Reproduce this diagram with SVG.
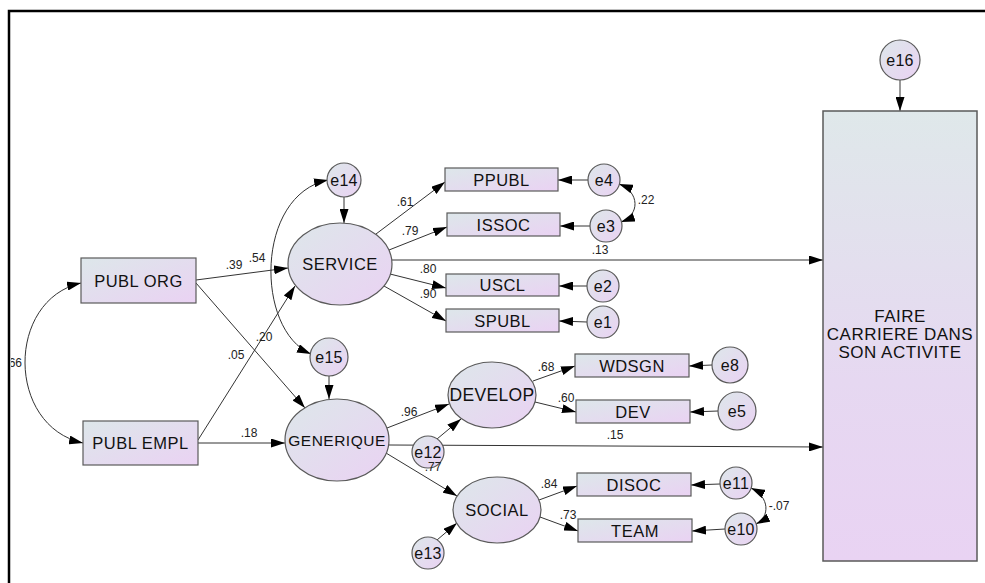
<svg xmlns="http://www.w3.org/2000/svg" width="985" height="583" viewBox="0 0 985 583">
<style>
.n{stroke:#5a5a5a;stroke-width:1.2;fill:url(#g)}
.t{font-family:"Liberation Sans",Arial,sans-serif;font-size:16.5px;letter-spacing:0.5px;fill:#111;text-anchor:middle}
.te{font-family:"Liberation Sans",Arial,sans-serif;font-size:16px;letter-spacing:0.3px;fill:#111;text-anchor:middle}
.l{font-family:"Liberation Sans",Arial,sans-serif;font-size:12px;fill:#222;text-anchor:middle}
.c{fill:none;stroke:#333;stroke-width:1;marker-end:url(#a)}
.d{fill:none;stroke:#333;stroke-width:1;marker-end:url(#a);marker-start:url(#a)}
</style>
<defs>
<linearGradient id="g" x1="0" y1="0" x2="1" y2="1">
<stop offset="0" stop-color="#dde7ea"/>
<stop offset="1" stop-color="#ead2f3"/>
</linearGradient>
<linearGradient id="gv" x1="0" y1="0" x2="0" y2="1">
<stop offset="0" stop-color="#dfe8ea"/>
<stop offset="0.6" stop-color="#e6d8f1"/>
<stop offset="1" stop-color="#e9d3f3"/>
</linearGradient>
<marker id="a" viewBox="0 0 14 9" refX="14" refY="4.5" markerWidth="14" markerHeight="9" orient="auto-start-reverse" markerUnits="userSpaceOnUse">
<path d="M0,0 L14,4.5 L0,9 z" fill="#000"/>
</marker>
<clipPath id="clip"><rect x="11" y="0" width="974" height="583"/></clipPath>
</defs>
<rect width="985" height="583" fill="#fff"/>
<path d="M9,583 V11 H985" fill="none" stroke="#000" stroke-width="2.5"/>

<g id="connectors">
<path class="d" d="M81,283 C 6,300 6,426 83,443"/>
<path class="d" d="M328,180 C 255,195 255,330 311,354"/>
<path class="c" d="M196,280 L288,268"/>
<path class="c" d="M198,440 L295,286"/>
<path class="c" d="M196,283 L305,408"/>
<path class="c" d="M198,443 L285,443"/>
<path class="c" d="M344,197 L344,223"/>
<path class="c" d="M329,376 L329,399"/>
<path class="c" d="M376,234 L445,182"/>
<path class="c" d="M389,250 L447,227"/>
<path class="c" d="M392,260 L823,260"/>
<path class="c" d="M390,274 L446,288"/>
<path class="c" d="M384,286 L446,321"/>
<path class="c" d="M588,180 L558,180"/>
<path class="c" d="M590,226 L560,226"/>
<path class="c" d="M587,286 L559,286"/>
<path class="c" d="M587,322 L559,321"/>
<path class="d" d="M619,184 C 640,192 640,215 621,222"/>
<path class="c" d="M387,428 L449,404"/>
<path class="c" d="M389,445 L823,447"/>
<path class="c" d="M386,453 L457,496"/>
<path class="c" d="M437,439 L461,419"/>
<path class="c" d="M437,540 L457,523"/>
<path class="c" d="M533,381 L575,366"/>
<path class="c" d="M535,402 L576,412"/>
<path class="c" d="M539,500 L577,486"/>
<path class="c" d="M540,517 L578,531"/>
<path class="c" d="M712,365 L689,366"/>
<path class="c" d="M718,411 L690,412"/>
<path class="c" d="M720,484 L691,485"/>
<path class="c" d="M725,529 L692,531"/>
<path class="d" d="M751,488 C 770,497 770,517 756,524"/>
<path class="c" d="M900,80 L900,111"/>
</g>

<g id="publorg"><rect class="n" x="81" y="258" width="115" height="45"/><text class="t" x="138.5" y="286.5">PUBL ORG</text></g>
<g id="publempl"><rect class="n" x="83" y="421" width="115" height="44"/><text class="t" x="140.5" y="449">PUBL EMPL</text></g>

<g id="service"><ellipse class="n" cx="340" cy="264" rx="52" ry="41"/><text class="t" x="340" y="270">SERVICE</text></g>
<g id="generique"><ellipse class="n" cx="337" cy="440" rx="52" ry="41"/><text class="t" x="337" y="445.5" style="font-size:15.5px">GENERIQUE</text></g>
<g id="develop"><ellipse class="n" cx="492" cy="395" rx="44" ry="33"/><text class="t" x="492" y="401" style="font-size:17.5px;letter-spacing:0.3px">DEVELOP</text></g>
<g id="social"><ellipse class="n" cx="497" cy="510" rx="44" ry="33"/><text class="t" x="497" y="516" style="font-size:16.5px">SOCIAL</text></g>

<g id="e14"><circle class="n" cx="344" cy="180" r="17"/><text class="te" x="344" y="186">e14</text></g>
<g id="e15"><circle class="n" cx="329" cy="357" r="19"/><text class="te" x="329" y="363">e15</text></g>

<g id="ppubl"><rect class="n" x="445" y="168" width="113" height="23"/><text class="t" x="501.5" y="185.5">PPUBL</text></g>
<g id="issoc"><rect class="n" x="447" y="213" width="113" height="23"/><text class="t" x="503.5" y="230.5">ISSOC</text></g>
<g id="uscl"><rect class="n" x="446" y="274" width="113" height="22"/><text class="t" x="502.5" y="291">USCL</text></g>
<g id="spubl"><rect class="n" x="446" y="309" width="113" height="23"/><text class="t" x="502.5" y="326.5">SPUBL</text></g>

<g id="e4"><circle class="n" cx="604" cy="180" r="16"/><text class="te" x="604" y="186">e4</text></g>
<g id="e3"><circle class="n" cx="606" cy="226" r="16"/><text class="te" x="606" y="232">e3</text></g>
<g id="e2"><circle class="n" cx="603" cy="286" r="16"/><text class="te" x="603" y="292">e2</text></g>
<g id="e1"><circle class="n" cx="603" cy="322" r="16"/><text class="te" x="603" y="328">e1</text></g>

<g id="wdsgn"><rect class="n" x="575" y="354" width="114" height="23"/><text class="t" x="632" y="371.5">WDSGN</text></g>
<g id="dev"><rect class="n" x="576" y="400" width="114" height="23"/><text class="t" x="633" y="417.5">DEV</text></g>
<g id="disoc"><rect class="n" x="577" y="473" width="114" height="23"/><text class="t" x="634" y="490.5">DISOC</text></g>
<g id="team"><rect class="n" x="578" y="519" width="114" height="23"/><text class="t" x="635" y="536.5">TEAM</text></g>

<g id="e8"><circle class="n" cx="730" cy="365" r="18"/><text class="te" x="730" y="371">e8</text></g>
<g id="e5"><circle class="n" cx="737" cy="411" r="19"/><text class="te" x="737" y="417">e5</text></g>
<g id="e11"><circle class="n" cx="736" cy="483" r="16"/><text class="te" x="736" y="489">e11</text></g>
<g id="e10"><circle class="n" cx="741" cy="529" r="16"/><text class="te" x="741" y="535">e10</text></g>
<g id="e12"><circle class="n" cx="428" cy="452" r="16"/><text class="te" x="428" y="458">e12</text></g>
<g id="e13"><circle class="n" cx="428" cy="553" r="16"/><text class="te" x="428" y="559">e13</text></g>

<g id="e16"><circle class="n" cx="900" cy="60" r="20"/><text class="te" x="900" y="66">e16</text></g>
<g id="faire"><rect x="823" y="111" width="154" height="450" fill="url(#gv)" stroke="#5a5a5a" stroke-width="1.5"/>
<text class="t" x="900" y="322" style="font-size:17px">FAIRE</text>
<text class="t" x="900" y="340" style="font-size:17px">CARRIERE DANS</text>
<text class="t" x="900" y="358" style="font-size:17px">SON ACTIVITE</text></g>

<g id="labels">
<text class="l" x="22" y="367" style="text-anchor:end" clip-path="url(#clip)">.66</text>
<text class="l" x="234" y="269">.39</text>
<text class="l" x="257" y="262">.54</text>
<text class="l" x="264" y="341">.20</text>
<text class="l" x="236" y="359">.05</text>
<text class="l" x="249" y="437">.18</text>
<text class="l" x="405" y="206">.61</text>
<text class="l" x="410" y="235">.79</text>
<text class="l" x="428" y="273">.80</text>
<text class="l" x="428" y="298">.90</text>
<text class="l" x="600" y="254">.13</text>
<text class="l" x="646" y="204">.22</text>
<text class="l" x="409" y="416">.96</text>
<text class="l" x="615" y="439">.15</text>
<text class="l" x="433" y="471">.77</text>
<text class="l" x="546" y="371">.68</text>
<text class="l" x="566" y="402">.60</text>
<text class="l" x="549" y="488">.84</text>
<text class="l" x="568" y="519">.73</text>
<text class="l" x="779" y="510">-.07</text>
</g>
</svg>
